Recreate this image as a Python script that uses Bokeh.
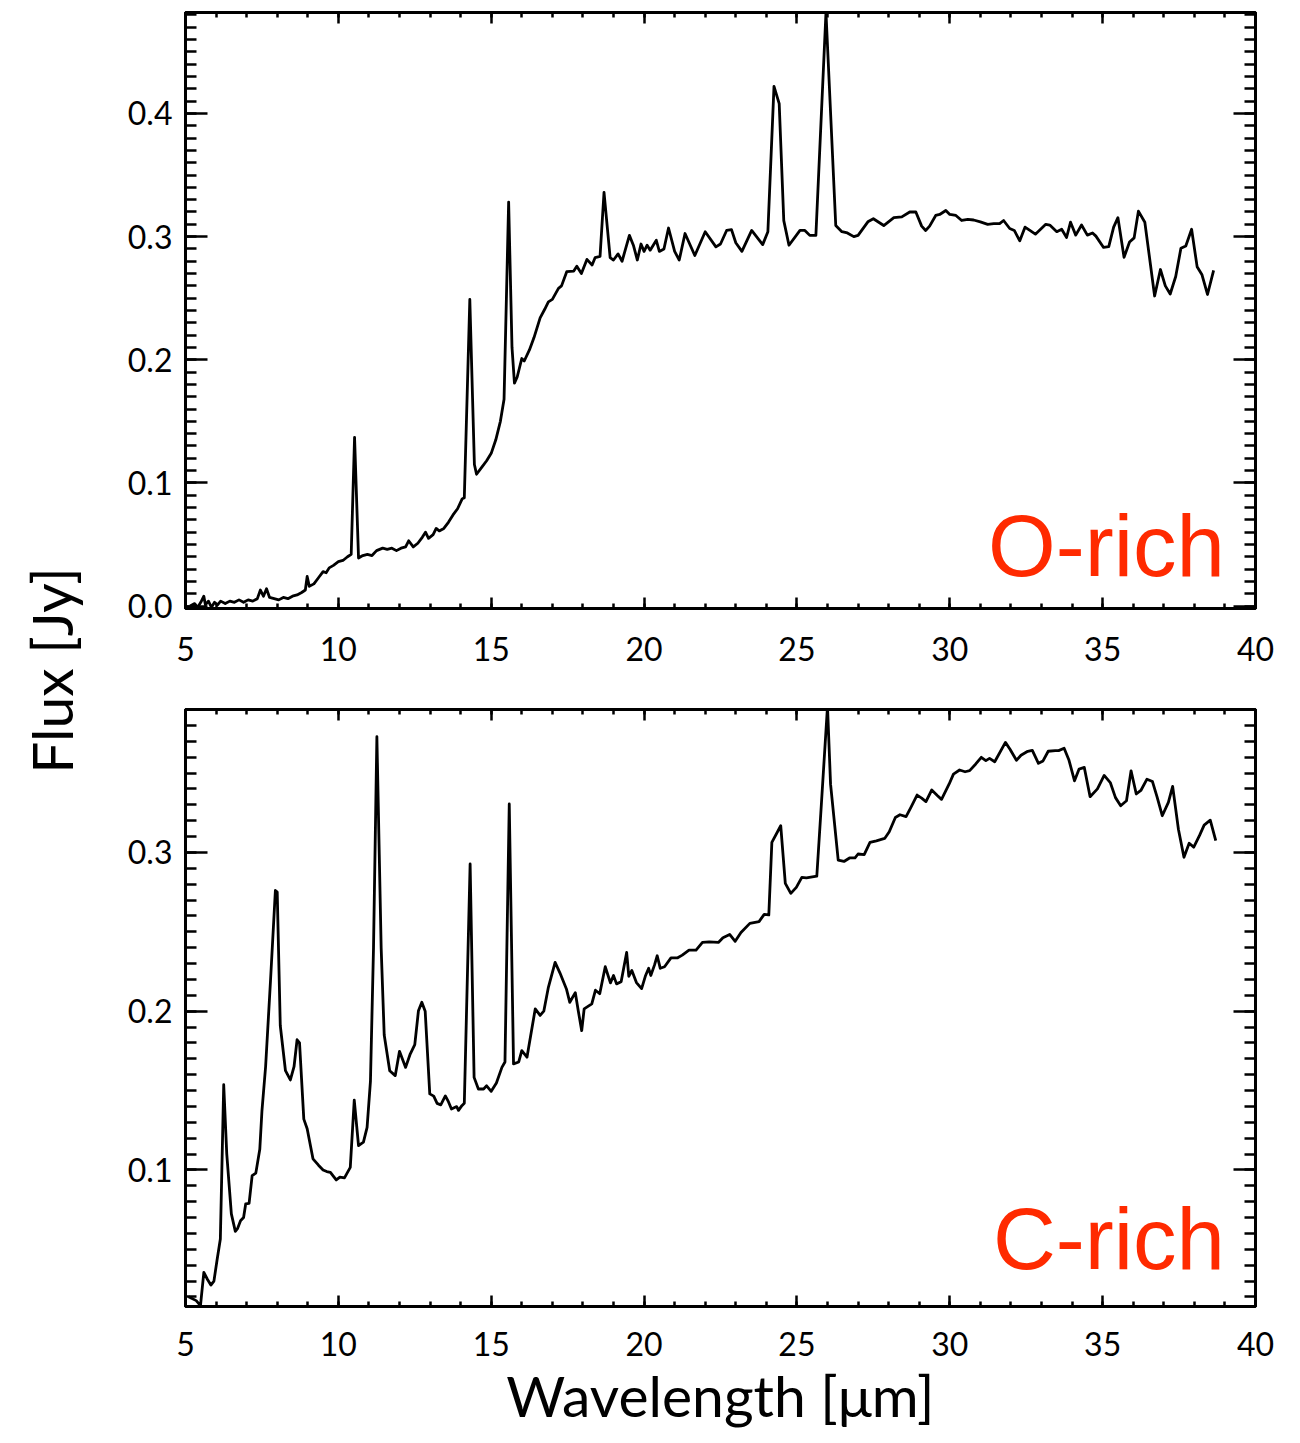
import math
from bokeh.plotting import figure
from bokeh.models import (Range1d, LinearAxis, SingleIntervalTicker, PrintfTickFormatter, Label,
                          CustomLabelingPolicy)
from bokeh.layouts import row, column
from bokeh.embed import file_html
from bokeh.resources import INLINE

# ---------------- data ----------------
o_wave = [5.15, 5.3, 5.4, 5.5, 5.6, 5.65, 5.75, 5.85, 5.95, 6.05, 6.15, 6.3, 6.45, 6.6, 6.75, 6.9,
          7.05, 7.2, 7.35, 7.45, 7.55, 7.65, 7.75, 7.9, 8.05, 8.2, 8.35, 8.5, 8.65, 8.8, 8.92, 8.98,
          9.05, 9.2, 9.35, 9.5, 9.6, 9.7, 9.84, 10.0, 10.15, 10.3, 10.42, 10.53, 10.66, 10.8, 10.95,
          11.1, 11.25, 11.45, 11.6, 11.75, 11.9, 12.05, 12.2, 12.3, 12.45, 12.6, 12.75, 12.85, 12.95,
          13.1, 13.2, 13.3, 13.45, 13.6, 13.75, 13.9, 14.05, 14.12, 14.3, 14.45, 14.52, 14.7, 14.85,
          15.0, 15.15, 15.3, 15.42, 15.57, 15.68, 15.76, 15.85, 16.0, 16.08, 16.25, 16.4, 16.6, 16.75,
          16.87, 17.0, 17.2, 17.3, 17.47, 17.7, 17.8, 17.95, 18.13, 18.3, 18.4, 18.56, 18.69, 18.89,
          19.0, 19.15, 19.28, 19.52, 19.65, 19.78, 19.9, 20.0, 20.1, 20.2, 20.3, 20.4, 20.5, 20.65,
          20.8, 21.0, 21.15, 21.34, 21.66, 22.0, 22.35, 22.5, 22.7, 22.86, 23.0, 23.2, 23.52, 23.88,
          24.05, 24.25, 24.42, 24.57, 24.74, 25.1, 25.26, 25.42, 25.62, 25.95, 26.27, 26.47, 26.65,
          26.86, 27.0, 27.32, 27.5, 27.84, 28.17, 28.43, 28.69, 28.89, 29.08, 29.21, 29.34, 29.54,
          29.67, 29.87, 30.0, 30.2, 30.39, 30.59, 30.78, 31.0, 31.24, 31.44, 31.63, 31.76, 31.96,
          32.11, 32.29, 32.46, 32.62, 32.8, 33.14, 33.27, 33.5, 33.66, 33.82, 33.95, 34.12, 34.31,
          34.5, 34.67, 34.78, 35.03, 35.2, 35.36, 35.5, 35.7, 35.88, 36.03, 36.17, 36.38, 36.7,
          36.89, 37.05, 37.21, 37.39, 37.56, 37.72, 37.91, 38.09, 38.25, 38.43, 38.63]
o_flux = [0.000, 0.002, -0.001, 0.003, 0.008, 0.001, 0.004, -0.001, 0.003, 0.001, 0.004, 0.002,
          0.004, 0.003, 0.005, 0.003, 0.005, 0.004, 0.006, 0.013, 0.008, 0.014, 0.007, 0.006, 0.005,
          0.007, 0.006, 0.008, 0.009, 0.011, 0.013, 0.024, 0.016, 0.018, 0.023, 0.028, 0.027, 0.031,
          0.033, 0.036, 0.037, 0.040, 0.042, 0.137, 0.039, 0.041, 0.042, 0.041, 0.045, 0.047, 0.046,
          0.047, 0.045, 0.047, 0.048, 0.053, 0.048, 0.051, 0.056, 0.060, 0.055, 0.058, 0.063, 0.061,
          0.063, 0.068, 0.074, 0.079, 0.087, 0.088, 0.249, 0.115, 0.107, 0.113, 0.118, 0.124, 0.135,
          0.150, 0.168, 0.328, 0.210, 0.181, 0.186, 0.201, 0.199, 0.208, 0.218, 0.234, 0.241, 0.247,
          0.249, 0.258, 0.260, 0.2715, 0.272, 0.276, 0.270, 0.2815, 0.277, 0.283, 0.284, 0.336, 0.283,
          0.281, 0.286, 0.280, 0.301, 0.293, 0.281, 0.294, 0.288, 0.293, 0.289, 0.293, 0.297, 0.288,
          0.290, 0.307, 0.288, 0.281, 0.3025, 0.2847, 0.304, 0.2917, 0.294, 0.305, 0.3057, 0.295,
          0.288, 0.305, 0.2935, 0.304, 0.422, 0.408, 0.313, 0.293, 0.305, 0.305, 0.301, 0.301, 0.482,
          0.309, 0.304, 0.303, 0.300, 0.301, 0.312, 0.3145, 0.309, 0.3154, 0.316, 0.320, 0.320,
          0.3085, 0.305, 0.3085, 0.3172, 0.318, 0.3212, 0.318, 0.3172, 0.3131, 0.314, 0.3135, 0.312,
          0.310, 0.3105, 0.3105, 0.3131, 0.3066, 0.305, 0.2966, 0.3077, 0.305, 0.302, 0.310, 0.3094,
          0.304, 0.306, 0.2993, 0.3117, 0.3012, 0.3094, 0.3012, 0.303, 0.3004, 0.2912, 0.2918, 0.3077,
          0.3154, 0.2832, 0.2956, 0.299, 0.3207, 0.3117, 0.2518, 0.2733, 0.260, 0.2534, 0.2676, 0.2905,
          0.2924, 0.306, 0.2756, 0.269, 0.253, 0.2726]

c_wave = [5.1, 5.35, 5.49, 5.6, 5.72, 5.83, 5.93, 6.03, 6.14, 6.25, 6.35, 6.5, 6.63, 6.7, 6.8, 6.9,
          6.97, 7.08, 7.18, 7.3, 7.43, 7.5, 7.62, 7.78, 7.94, 8.0, 8.1, 8.27, 8.43, 8.55, 8.65, 8.73,
          8.87, 8.98, 9.17, 9.35, 9.5, 9.62, 9.74, 9.93, 10.05, 10.2, 10.39, 10.52, 10.66, 10.82,
          10.94, 11.05, 11.15, 11.26, 11.4, 11.5, 11.68, 11.86, 12.0, 12.2, 12.35, 12.5, 12.62, 12.73,
          12.84, 12.99, 13.12, 13.23, 13.35, 13.5, 13.6, 13.7, 13.87, 13.93, 14.04, 14.12, 14.31,
          14.44, 14.58, 14.75, 14.85, 15.0, 15.17, 15.35, 15.45, 15.59, 15.73, 15.9, 16.0, 16.17,
          16.44, 16.6, 16.72, 16.87, 17.09, 17.25, 17.46, 17.57, 17.75, 17.85, 17.96, 18.04, 18.29,
          18.41, 18.55, 18.73, 18.9, 19.0, 19.1, 19.25, 19.43, 19.5, 19.6, 19.75, 19.92, 20.05, 20.15,
          20.22, 20.34, 20.43, 20.53, 20.67, 20.88, 21.1, 21.25, 21.47, 21.7, 21.91, 22.13, 22.43,
          22.58, 22.8, 22.98, 23.17, 23.46, 23.76, 23.93, 24.08, 24.18, 24.47, 24.62, 24.8, 24.98,
          25.16, 25.31, 25.65, 25.8, 26.0, 26.1, 26.35, 26.54, 26.72, 26.9, 27.0, 27.2, 27.39, 27.6,
          27.87, 28.02, 28.22, 28.37, 28.57, 28.72, 28.93, 29.08, 29.22, 29.41, 29.6, 29.73, 29.98,
          30.12, 30.32, 30.5, 30.65, 30.85, 31.03, 31.18, 31.3, 31.47, 31.82, 31.97, 32.18, 32.33,
          32.55, 32.7, 32.9, 33.05, 33.22, 33.45, 33.56, 33.74, 33.9, 34.08, 34.23, 34.4, 34.59,
          34.83, 35.05, 35.25, 35.42, 35.59, 35.78, 35.93, 36.1, 36.25, 36.45, 36.63, 36.78, 36.95,
          37.15, 37.29, 37.48, 37.66, 37.83, 37.98, 38.17, 38.32, 38.52, 38.7]
c_flux = [0.0202, 0.0177, 0.0145, 0.0355, 0.031, 0.0275, 0.030, 0.043, 0.0565, 0.1537, 0.110,
          0.0723, 0.0613, 0.063, 0.068, 0.070, 0.0787, 0.079, 0.0964, 0.098, 0.113, 0.137, 0.165,
          0.219, 0.276, 0.275, 0.191, 0.1625, 0.1567, 0.165, 0.182, 0.180, 0.132, 0.126, 0.107, 0.103,
          0.100, 0.099, 0.0985, 0.0937, 0.0955, 0.095, 0.1016, 0.144, 0.1153, 0.1175, 0.1268, 0.156,
          0.240, 0.3729, 0.240, 0.185, 0.1625, 0.1594, 0.1747, 0.1646, 0.173, 0.1789, 0.2003, 0.2056,
          0.200, 0.1479, 0.1465, 0.1419, 0.141, 0.1466, 0.143, 0.1384, 0.1399, 0.1375, 0.1405, 0.142,
          0.2927, 0.1583, 0.151, 0.151, 0.153, 0.1495, 0.1548, 0.1646, 0.168, 0.3305, 0.1668, 0.168,
          0.1751, 0.171, 0.2014, 0.1973, 0.200, 0.215, 0.2307, 0.224, 0.214, 0.2056, 0.2117, 0.200,
          0.1877, 0.2014, 0.2046, 0.2132, 0.211, 0.228, 0.2178, 0.2225, 0.2172, 0.2185, 0.237, 0.222,
          0.2256, 0.218, 0.2142, 0.2225, 0.227, 0.2225, 0.229, 0.2349, 0.227, 0.228, 0.2336, 0.2336,
          0.2353, 0.2385, 0.2385, 0.2433, 0.2437, 0.2433, 0.2463, 0.2483, 0.244, 0.2495, 0.2553,
          0.2564, 0.261, 0.2606, 0.3063, 0.3168, 0.2805, 0.2742, 0.278, 0.2843, 0.284, 0.285, 0.3305,
          0.392, 0.343, 0.2952, 0.2943, 0.2965, 0.2965, 0.299, 0.2986, 0.3063, 0.3073, 0.3088, 0.313,
          0.322, 0.3237, 0.3225, 0.328, 0.3361, 0.3342, 0.332, 0.3393, 0.3357, 0.3334, 0.3431, 0.3493,
          0.3519, 0.3508, 0.3515, 0.3557, 0.3599, 0.3578, 0.3592, 0.3571, 0.3693, 0.365, 0.358,
          0.3612, 0.3637, 0.3643, 0.3561, 0.3576, 0.3637, 0.3641, 0.3641, 0.3656, 0.358, 0.3451,
          0.3525, 0.3535, 0.3351, 0.340, 0.3485, 0.344, 0.3345, 0.3294, 0.3325, 0.3514, 0.3368, 0.339,
          0.3461, 0.3446, 0.335, 0.3231, 0.3315, 0.3416, 0.3144, 0.2969, 0.3058, 0.3033, 0.3107,
          0.3172, 0.3203, 0.3074]

x_ticks_interval = 5
y_ticks_interval = 0.1
panel_labels = ["O-rich", "C-rich"]
x_title = "Wavelength [μm]"
y_title = "Flux [Jy]"

FONT = "Lato"
RED = "#ff2a00"


def style(ax, major, minor, labels=True, size="32px", standoff=12):
    ax.major_tick_in = major
    ax.major_tick_out = 0
    ax.minor_tick_in = minor
    ax.minor_tick_out = 0
    ax.axis_line_width = 3
    ax.axis_line_color = "black"
    ax.major_tick_line_width = 2.5
    ax.minor_tick_line_width = 2.5
    ax.major_tick_line_color = "black"
    ax.minor_tick_line_color = "black"
    ax.major_label_text_font = FONT
    ax.major_label_text_color = "black"
    if labels:
        ax.major_label_text_font_size = size
        ax.major_label_standoff = standoff
    else:
        ax.major_label_text_font_size = "0px"
        ax.major_label_standoff = 0
        ax.major_label_policy = CustomLabelingPolicy(code="return []")


def panel(wave, flux, yr, height, top_b, bot_b, label, label_y, xstand, with_title):
    p = figure(width=1200, height=height, x_range=Range1d(5, 40), y_range=Range1d(*yr),
               output_backend="svg", toolbar_location=None,
               min_border_left=85, min_border_right=45, min_border_top=top_b,
               min_border_bottom=bot_b, background_fill_color="white",
               border_fill_color="white")
    p.grid.visible = False
    p.outline_line_color = "black"
    p.outline_line_width = 3
    xax = p.xaxis[0]
    yax = p.yaxis[0]
    xax.ticker = SingleIntervalTicker(interval=x_ticks_interval, num_minor_ticks=5)
    yax.ticker = SingleIntervalTicker(interval=y_ticks_interval, num_minor_ticks=10)
    yax.formatter = PrintfTickFormatter(format="%.1f")
    style(xax, 11, 5, True, standoff=xstand)
    style(yax, 22, 11, True, standoff=13)
    if with_title:
        xax.axis_label = x_title
        xax.axis_label_text_font = FONT
        xax.axis_label_text_font_size = "57px"
        xax.axis_label_text_font_style = "normal"
        xax.axis_label_text_color = "black"
        xax.axis_label_standoff = 2
    top_ax = LinearAxis(ticker=SingleIntervalTicker(interval=x_ticks_interval, num_minor_ticks=5))
    style(top_ax, 11, 5, False)
    p.add_layout(top_ax, "above")
    right_ax = LinearAxis(ticker=SingleIntervalTicker(interval=y_ticks_interval, num_minor_ticks=10))
    style(right_ax, 22, 11, False)
    p.add_layout(right_ax, "right")
    p.line(wave, flux, line_color="black", line_width=2.8, line_join="round")
    p.add_layout(Label(x=39.0, y=label_y, text=label, text_align="right",
                       text_baseline="alphabetic", text_font="Liberation Sans",
                       text_font_size="87px", text_color=RED))
    return p


top = panel(o_wave, o_flux, (-0.002, 0.482), 678, 12, 70, panel_labels[0], 0.0495, 28, False)
bot = panel(c_wave, c_flux, (0.014, 0.39), 765, 31, 137, panel_labels[1], 0.057, 25, True)

lab = figure(width=100, height=1443, x_range=Range1d(0, 100), y_range=Range1d(0, 1443),
             output_backend="svg", toolbar_location=None, min_border=0,
             x_axis_location=None, y_axis_location=None)
lab.grid.visible = False
lab.outline_line_color = None
lab.add_layout(Label(x=50, y=1443 - 670, text=y_title, angle=math.pi / 2, text_align="center",
                     text_baseline="middle", text_font=FONT, text_font_size="57px",
                     text_color="black"))

layout = row(lab, column(top, bot, spacing=0), spacing=0)
open("out.html", "w").write(file_html(layout, INLINE))
